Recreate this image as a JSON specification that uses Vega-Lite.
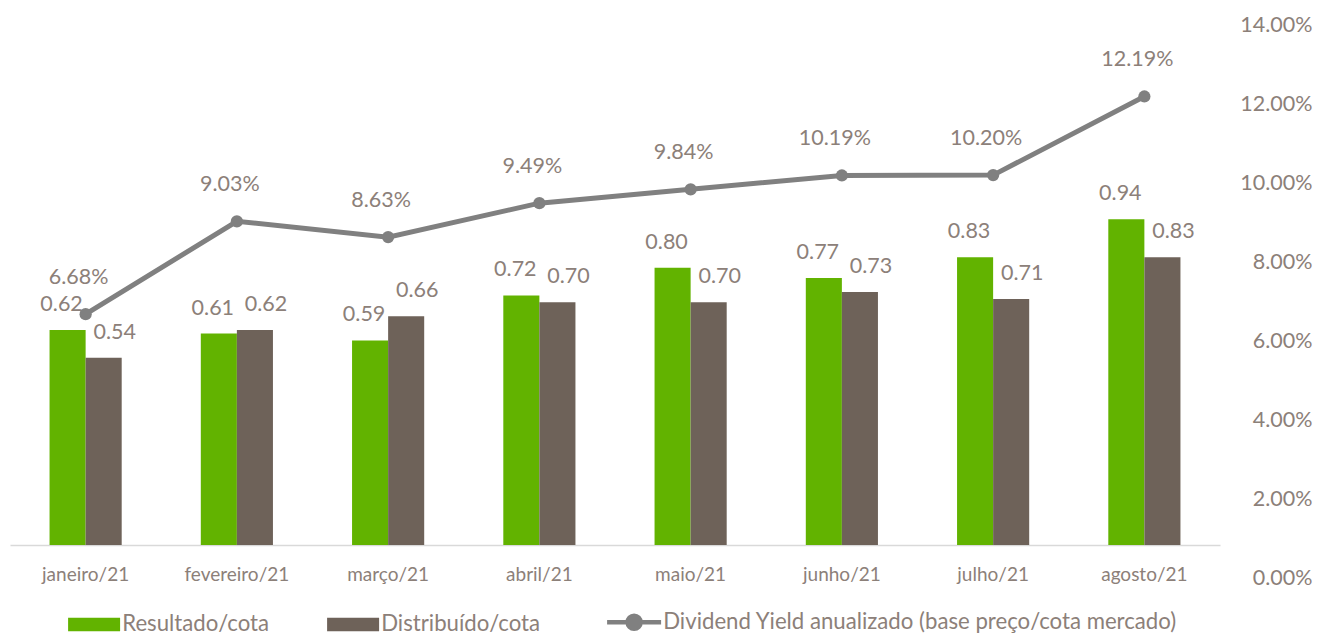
{
  "$schema": "https://vega.github.io/schema/vega-lite/v6.json",
  "width": 1210,
  "height": 553,
  "autosize": {"type": "none"},
  "padding": {"left": 10, "top": 25, "right": 97, "bottom": 56},
  "background": "white",
  "config": {
    "view": {"stroke": null},
    "font": "Lato",
    "text": {"font": "Lato"},
    "axis": {"labelFont": "Lato"},
    "legend": {"labelFont": "Lato"}
  },
  "datasets": {
    "bars": [
      {"mes": "janeiro/21", "serie": "Resultado/cota", "valor": 0.62},
      {"mes": "janeiro/21", "serie": "Distribuído/cota", "valor": 0.54},
      {"mes": "fevereiro/21", "serie": "Resultado/cota", "valor": 0.61},
      {"mes": "fevereiro/21", "serie": "Distribuído/cota", "valor": 0.62},
      {"mes": "março/21", "serie": "Resultado/cota", "valor": 0.59},
      {"mes": "março/21", "serie": "Distribuído/cota", "valor": 0.66},
      {"mes": "abril/21", "serie": "Resultado/cota", "valor": 0.72},
      {"mes": "abril/21", "serie": "Distribuído/cota", "valor": 0.70},
      {"mes": "maio/21", "serie": "Resultado/cota", "valor": 0.80},
      {"mes": "maio/21", "serie": "Distribuído/cota", "valor": 0.70},
      {"mes": "junho/21", "serie": "Resultado/cota", "valor": 0.77},
      {"mes": "junho/21", "serie": "Distribuído/cota", "valor": 0.73},
      {"mes": "julho/21", "serie": "Resultado/cota", "valor": 0.83},
      {"mes": "julho/21", "serie": "Distribuído/cota", "valor": 0.71},
      {"mes": "agosto/21", "serie": "Resultado/cota", "valor": 0.94},
      {"mes": "agosto/21", "serie": "Distribuído/cota", "valor": 0.83}
    ],
    "yield": [
      {"mes": "janeiro/21", "serie": "Dividend Yield anualizado (base preço/cota mercado)", "dy": 0.0668},
      {"mes": "fevereiro/21", "serie": "Dividend Yield anualizado (base preço/cota mercado)", "dy": 0.0903},
      {"mes": "março/21", "serie": "Dividend Yield anualizado (base preço/cota mercado)", "dy": 0.0863},
      {"mes": "abril/21", "serie": "Dividend Yield anualizado (base preço/cota mercado)", "dy": 0.0949},
      {"mes": "maio/21", "serie": "Dividend Yield anualizado (base preço/cota mercado)", "dy": 0.0984},
      {"mes": "junho/21", "serie": "Dividend Yield anualizado (base preço/cota mercado)", "dy": 0.1019},
      {"mes": "julho/21", "serie": "Dividend Yield anualizado (base preço/cota mercado)", "dy": 0.1020},
      {"mes": "agosto/21", "serie": "Dividend Yield anualizado (base preço/cota mercado)", "dy": 0.1219}
    ]
  },
  "encoding": {
    "x": {
      "field": "mes",
      "type": "nominal",
      "sort": null,
      "scale": {"paddingInner": 0.523, "paddingOuter": 0.2615},
      "axis": {
        "title": null,
        "orient": "bottom",
        "offset": -33,
        "domainColor": "#d9d9d9",
        "domainWidth": 1.5,
        "ticks": false,
        "tickSize": 0,
        "labelPadding": 20,
        "labelAngle": 0,
        "labelFontSize": 19,
        "labelColor": "#8c8079",
        "labelBaseline": "top"
      }
    }
  },
  "layer": [
    {
      "data": {"name": "bars"},
      "layer": [
        {
          "mark": {"type": "bar"},
          "encoding": {
            "xOffset": {"field": "serie", "scale": {"domain": ["Resultado/cota", "Distribuído/cota"], "paddingInner": 0, "paddingOuter": 0}},
            "y": {"field": "valor", "type": "quantitative", "scale": {"domain": [-0.0951, 1.5], "nice": false, "zero": false}, "axis": null},
            "color": {
              "field": "serie",
              "type": "nominal",
              "scale": {
                "domain": ["Resultado/cota", "Distribuído/cota", "Dividend Yield anualizado (base preço/cota mercado)"],
                "range": ["#62b300", "#6e6259", "#808080"]
              },
              "legend": {
                "title": null,
                "orient": "none",
                "legendX": 90,
                "legendY": 586,
                "direction": "horizontal",
                "padding": 0,
                "symbolSize": 100,
                "symbolStrokeWidth": 0,
                "labelOffset": 0,
                "columnPadding": 57,
                "labelFontSize": 22.2,
                "labelColor": "#8c8079",
                "labelLimit": 1000,
                "encode": {
                  "symbols": {
                    "update": {
                      "shape": {"signal": "datum.value === 'Dividend Yield anualizado (base preço/cota mercado)' ? 'M-9.0,0L1.8,0M-2.3,0A1.3,1.3,0,1,1,-4.9,0A1.3,1.3,0,1,1,-2.3,0Z' : 'M-8.6,-1.34L1.8,-1.34L1.8,1.34L-8.6,1.34Z'"},
                      "fill": {"scale": "color", "field": "value"},
                      "stroke": {"scale": "color", "field": "value"},
                      "strokeWidth": {"signal": "datum.value === 'Dividend Yield anualizado (base preço/cota mercado)' ? 4.5 : 0"},
                      "opacity": {"value": 1}
                    }
                  }
                }
              }
            }
          }
        },
        {
          "transform": [{"filter": "datum.serie === 'Resultado/cota'"}],
          "mark": {"type": "text", "baseline": "middle", "align": "center", "dy": -25, "dx": -6, "fontSize": 21.5, "color": "#8c8079"},
          "encoding": {
            "xOffset": {"field": "serie", "scale": {"domain": ["Resultado/cota", "Distribuído/cota"], "paddingInner": 0, "paddingOuter": 0}},
            "y": {"field": "valor", "type": "quantitative"},
            "text": {"field": "valor", "type": "quantitative", "format": ".2f"}
          }
        },
        {
          "transform": [{"filter": "datum.serie === 'Distribuído/cota'"}],
          "mark": {"type": "text", "baseline": "middle", "align": "center", "dy": -25, "dx": 11, "fontSize": 21.5, "color": "#8c8079"},
          "encoding": {
            "xOffset": {"field": "serie", "scale": {"domain": ["Resultado/cota", "Distribuído/cota"], "paddingInner": 0, "paddingOuter": 0}},
            "y": {"field": "valor", "type": "quantitative"},
            "text": {"field": "valor", "type": "quantitative", "format": ".2f"}
          }
        }
      ]
    },
    {
      "data": {"name": "yield"},
      "layer": [
        {
          "mark": {"type": "line", "strokeWidth": 5},
          "encoding": {
            "y": {
              "field": "dy",
              "type": "quantitative",
              "scale": {"domain": [0, 0.14], "nice": false},
              "axis": {
                "orient": "right",
                "title": null,
                "values": [0, 0.02, 0.04, 0.06, 0.08, 0.1, 0.12, 0.14],
                "format": ".2%",
                "grid": false,
                "domain": false,
                "ticks": false,
                "tickSize": 0,
                "labelAlign": "right",
                "labelPadding": 92,
                "labelFontSize": 21.5,
                "labelColor": "#8c8079"
              }
            },
            "color": {"field": "serie", "type": "nominal"}
          }
        },
        {
          "mark": {"type": "circle", "size": 150, "opacity": 1, "color": "#808080"},
          "encoding": {
            "y": {"field": "dy", "type": "quantitative"}
          }
        },
        {
          "mark": {"type": "text", "baseline": "middle", "align": "center", "dy": -36, "dx": -7, "fontSize": 21.5, "color": "#8c8079"},
          "encoding": {
            "y": {"field": "dy", "type": "quantitative"},
            "text": {"field": "dy", "type": "quantitative", "format": ".2%"}
          }
        }
      ]
    }
  ],
  "resolve": {"scale": {"y": "independent"}}
}
